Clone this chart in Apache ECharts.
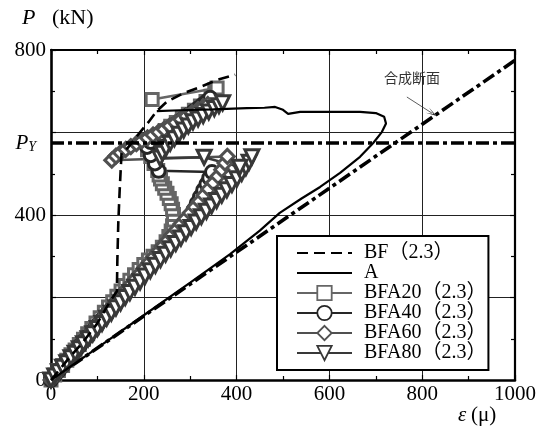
<!DOCTYPE html>
<html>
<head>
<meta charset="utf-8">
<script src="https://cdn.jsdelivr.net/npm/echarts@6/dist/echarts.min.js"></script>
<style>
html, body { margin: 0; padding: 0; background: #fff; }
#chart { width: 543px; height: 439px; }
</style>
</head>
<body>
<div id="chart"></div>
<script>
// Strain (μ) on x, load P (kN) on y
const xRange = [0, 1000];
const yRange = [0, 800];
const yLabelValues = [0, 400, 800];
const yieldLoad = 574;               // P_Y level
const compositeLine = [[0, 0], [1000, 775]];
const compositeArrow = [[767, 686], [821, 647]];

const bfData = [
  [0, 0], [40, 55], [69, 92], [99, 136], [127, 190], [142, 215], [143, 290], [145, 380],
  [148, 460], [152, 550], [165, 562], [190, 598], [210, 625], [228, 652], [250, 675],
  [285, 695], [321, 710], [357, 727], [397, 740]
];

const aData = [
  [0, 0], [100, 78], [200, 157], [300, 236], [386, 305], [450, 362], [493, 405], [540, 440],
  [580, 468], [623, 502], [666, 541], [694, 574], [713, 601], [722, 622], [718, 638],
  [700, 647], [666, 650], [600, 650], [537, 650], [511, 645], [500, 655], [483, 662],
  [460, 660], [422, 659], [350, 656], [278, 654], [228, 652]
];

const bfa20Data = [
  [0, 0], [8, 12], [16, 23], [25, 35], [34, 48], [43, 61], [52, 73], [61, 86], [70, 99],
  [79, 112], [88, 125], [97, 138], [106, 151], [115, 164], [124, 177], [133, 190], [142, 203],
  [151, 216], [160, 229], [170, 242], [180, 255], [190, 268], [200, 280], [210, 291], [220, 300],
  [231, 311], [240, 322], [248, 335], [254, 348], [259, 361], [262, 374], [264, 388], [264, 401],
  [262, 414], [259, 427], [255, 440], [250, 453], [245, 465], [240, 476], [236, 487], [233, 497],
  [230, 508], [222, 525], [215, 542], [208, 558], [212, 572], [222, 584], [234, 595], [246, 605],
  [258, 615], [270, 624], [283, 634], [296, 644], [309, 654], [322, 664], [334, 675], [345, 688],
  [353, 703], [358, 708], [218, 680]
];

const bfa40Data = [
  [0, 0], [8, 11], [17, 23], [26, 35], [35, 47], [44, 59], [53, 71], [62, 83], [71, 95],
  [80, 107], [90, 120], [100, 133], [110, 146], [120, 159], [130, 172], [140, 185], [150, 198],
  [160, 211], [170, 224], [180, 237], [190, 250], [200, 263], [210, 276], [220, 289], [230, 302],
  [240, 315], [250, 328], [260, 341], [270, 354], [280, 367], [290, 381], [299, 396], [307, 412],
  [314, 428], [321, 444], [328, 460], [335, 475], [341, 490], [347, 504], [232, 507], [224, 525],
  [215, 545], [207, 565], [215, 577], [226, 587], [237, 596], [248, 604], [258, 612], [267, 619],
  [277, 627], [287, 635], [297, 643], [307, 651], [317, 659], [326, 667], [335, 675], [343, 684]
];

const bfa60Data = [
  [0, 0], [8, 11], [17, 23], [26, 35], [35, 47], [44, 59], [53, 72], [62, 84], [71, 96],
  [80, 108], [90, 121], [100, 135], [110, 148], [120, 162], [130, 175], [140, 189], [150, 202],
  [160, 216], [170, 229], [180, 243], [190, 256], [200, 270], [210, 283], [220, 297], [230, 310],
  [240, 324], [250, 337], [260, 351], [270, 364], [280, 378], [290, 391], [300, 405], [310, 419],
  [320, 433], [330, 448], [340, 463], [350, 478], [360, 494], [368, 510], [375, 526], [380, 542],
  [131, 533], [140, 543], [150, 551], [161, 559], [172, 566], [184, 573], [196, 580], [208, 587],
  [220, 594], [232, 601], [244, 608], [256, 616], [268, 624], [280, 632], [292, 640], [304, 648],
  [316, 655], [328, 662], [338, 668]
];

const bfa80Data = [
  [0, 0], [8, 10], [16, 20], [25, 31], [34, 42], [43, 54], [52, 65], [61, 76], [70, 88],
  [80, 100], [90, 112], [100, 125], [110, 137], [120, 150], [130, 162], [140, 175], [150, 187],
  [160, 200], [170, 212], [181, 225], [192, 238], [203, 252], [214, 265], [225, 278], [236, 292],
  [247, 305], [258, 318], [269, 331], [280, 344], [291, 357], [302, 370], [313, 383], [324, 396],
  [335, 409], [346, 422], [357, 435], [368, 448], [379, 461], [390, 474], [401, 488], [411, 501],
  [420, 515], [427, 528], [433, 541], [407, 516], [330, 540], [235, 538], [240, 550], [248, 562],
  [257, 574], [266, 585], [276, 596], [286, 606], [296, 616], [306, 626], [317, 633], [328, 641],
  [340, 650], [352, 658], [362, 665], [370, 672]
];

const legendNames = ['BF（2.3）', 'A', 'BFA20（2.3）', 'BFA40（2.3）', 'BFA60（2.3）', 'BFA80（2.3）'];

const serif = "'Liberation Serif', 'Noto Sans CJK JP', serif";

function markerSeries(name, data, symbol, color, size, rotate) {
  return {
    name: name,
    type: 'line',
    data: data,
    z: 3,
    color: color,
    symbol: symbol,
    symbolSize: size,
    symbolRotate: rotate || 0,
    showSymbol: true,
    showAllSymbol: true,
    lineStyle: { color: color, width: 2.5, opacity: 1 },
    itemStyle: { color: '#fff', borderColor: color, borderWidth: 3, opacity: 1 },
    emphasis: { disabled: true }
  };
}

function axisCommon(pos, isX) {
  return {
    type: 'value',
    position: pos,
    min: isX ? xRange[0] : yRange[0],
    max: isX ? xRange[1] : yRange[1],
    interval: 200,
    axisLine: { show: true, onZero: false, lineStyle: { color: '#000', width: 2.2 } },
    axisTick: { show: true, inside: true, length: 5, lineStyle: { color: '#000', width: 1.2 } },
    minorTick: { show: true, splitNumber: 2, length: 4, lineStyle: { color: '#000', width: 1.2 } },
    splitLine: { show: false },
    axisLabel: { show: false }
  };
}

const chart = echarts.init(document.getElementById('chart'), null, { renderer: 'canvas' });

const xBottom = axisCommon('bottom', true);
xBottom.axisLine.lineStyle.width = 2.6;
xBottom.splitLine = { show: true, lineStyle: { color: '#222', width: 1 } };
xBottom.axisLabel = {
  show: true, fontFamily: serif, fontSize: 21, color: '#000', margin: 4,
  formatter: function (v) { return String(v); }
};

const xTop = axisCommon('top', true);

const yLeft = axisCommon('left', false);
yLeft.axisLine.lineStyle.width = 2.6;
yLeft.splitLine = { show: true, lineStyle: { color: '#222', width: 1 } };
yLeft.axisLabel = {
  show: true, fontFamily: serif, fontSize: 21, color: '#000', margin: 5,
  formatter: function (v) { return yLabelValues.indexOf(v) >= 0 ? String(v) : ''; }
};

const yRight = axisCommon('right', false);

// plain-line entries in the legend carry no marker
const legendData = legendNames.map(function (n, i) {
  return i < 2 ? { name: n, itemStyle: { opacity: 0 } } : { name: n, itemStyle: { borderWidth: 1.8 } };
});

const option = {
  animation: false,
  backgroundColor: '#fff',
  grid: { left: 51, top: 50, right: 28, bottom: 59, containLabel: false },
  xAxis: [xBottom, xTop],
  yAxis: [yLeft, yRight],
  legend: {
    data: legendData,
    orient: 'vertical',
    left: 277,
    top: 236,
    padding: [7, 2, 7, 19],
    itemGap: 0,
    itemWidth: 55,
    itemHeight: 18,
    borderColor: '#000',
    borderWidth: 2,
    backgroundColor: '#fff',
    selectedMode: false,
    textStyle: { fontFamily: serif, fontSize: 20, color: '#000', lineHeight: 20, padding: [0, 0, 0, 7] }
  },
  graphic: [
    { type: 'text', left: 22, top: 7, style: { text: 'P', font: "italic 22px 'Liberation Serif'", fill: '#000' } },
    { type: 'text', left: 52, top: 7, style: { text: '(kN)', font: "22px 'Liberation Serif'", fill: '#000' } },
    { type: 'text', left: 458, top: 405, style: { text: 'ε', font: "italic 21px 'Liberation Serif'", fill: '#000' } },
    { type: 'text', left: 471, top: 405, style: { text: '(μ)', font: "21px 'Liberation Serif'", fill: '#000' } },
    { type: 'text', left: 384, top: 71, style: { text: '合成断面', font: "14px 'Noto Sans CJK JP'", fill: '#333' } }
  ],
  series: [
    {
      name: 'composite',
      type: 'line',
      data: compositeLine,
      z: 2,
      symbol: 'none',
      lineStyle: { color: '#000', width: 3.6, type: [13, 4, 4, 4] },
      emphasis: { disabled: true },
      markLine: {
        silent: true,
        symbol: ['none', 'none'],
        animation: false,
        data: [
          {
            yAxis: yieldLoad,
            lineStyle: { color: '#000', width: 3.6, type: [13, 4, 4, 4] },
            label: {
              show: true, position: 'start', distance: 15,
              formatter: '{p|P}{s|Y}',
              rich: {
                p: { fontFamily: serif, fontStyle: 'italic', fontSize: 21, color: '#000' },
                s: { fontFamily: serif, fontStyle: 'italic', fontSize: 14, color: '#000', padding: [9, 0, 0, 0] }
              }
            }
          },
          [
            { coord: compositeArrow[0], symbol: 'none', lineStyle: { color: '#333', width: 0.8, type: 'solid' }, label: { show: false } },
            { coord: compositeArrow[1], symbol: 'path://M5,0 L10,12 L5,4 L0,12 Z', symbolSize: [6, 11] }
          ]
        ]
      }
    },
    markerSeries(legendNames[2], bfa20Data, 'rect', '#666666', 12),
    markerSeries(legendNames[3], bfa40Data, 'circle', '#262626', 13),
    markerSeries(legendNames[4], bfa60Data, 'diamond', '#505050', 14),
    markerSeries(legendNames[5], bfa80Data, 'triangle', '#383838', 14, 180),
    {
      name: legendNames[1],
      type: 'line',
      data: aData,
      z: 4,
      symbol: 'none',
      lineStyle: { color: '#000', width: 2.2 },
      itemStyle: { color: '#000' },
      emphasis: { disabled: true }
    },
    {
      name: legendNames[0],
      type: 'line',
      data: bfData,
      z: 5,
      symbol: 'none',
      lineStyle: { color: '#000', width: 2.6, type: [11, 6] },
      itemStyle: { color: '#000' },
      emphasis: { disabled: true }
    }
  ]
};

chart.setOption(option);
</script>
</body>
</html>
